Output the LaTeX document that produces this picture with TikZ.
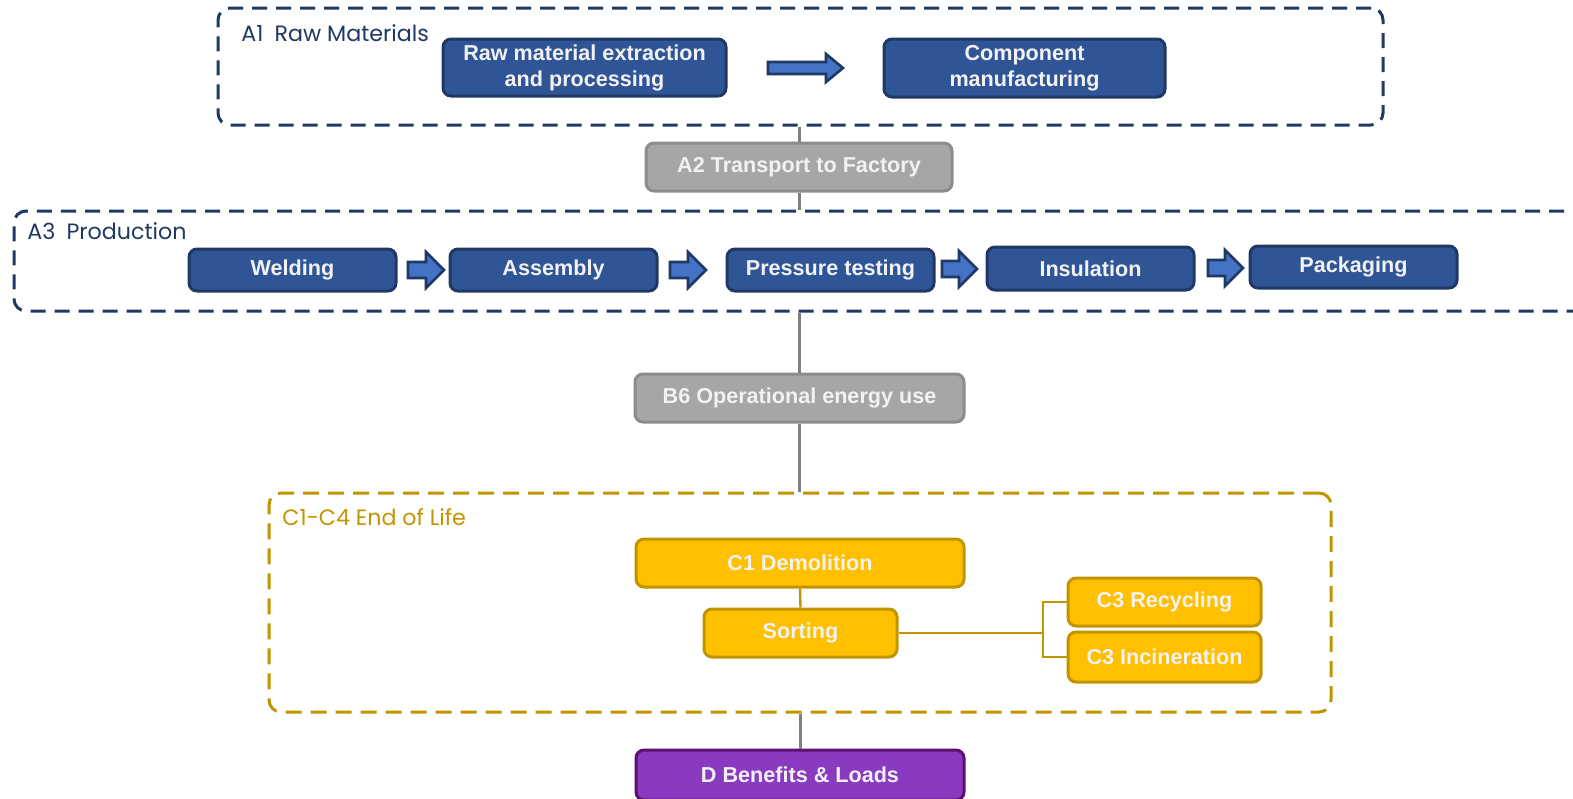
\documentclass[tikz,border=0pt]{standalone}
\usepackage{fontspec}
\setmainfont{Liberation Sans}
\newfontfamily\labfont{Poppins}
\usetikzlibrary{positioning}
\definecolor{navy}{HTML}{1F3864}
\definecolor{boxblue}{HTML}{2F5597}
\definecolor{arrblue}{HTML}{4472C4}
\definecolor{gfill}{HTML}{A6A6A6}
\definecolor{gdraw}{HTML}{8C8C8C}
\definecolor{gline}{HTML}{808080}
\definecolor{yfill}{HTML}{FFC000}
\definecolor{ydraw}{HTML}{C29400}
\definecolor{pfill}{HTML}{8A3AC0}
\definecolor{pdraw}{HTML}{5E0F73}
\definecolor{txt}{HTML}{F2F2F2}
\tikzset{
  base/.style={rounded corners=4pt, line width=1.5pt, inner sep=0pt, align=center,
    font=\fontsize{10.8}{13}\selectfont\bfseries, text=txt},
  bluebox/.style={base, fill=boxblue, draw=navy},
  graybox/.style={base, fill=gfill, draw=gdraw},
  yellowbox/.style={base, fill=yfill, draw=ydraw},
  purplebox/.style={base, fill=pfill, draw=pdraw},
  region/.style={rounded corners=6pt, line width=1.5pt, dash pattern=on 7.5pt off 4.5pt},
  navyregion/.style={region, draw=navy},
  goldregion/.style={region, draw=ydraw, dash pattern=on 8pt off 4.5pt},
  reglabel/.style={font=\labfont\fontsize{11.1}{13}\selectfont, inner sep=0pt, anchor=west},
  conn/.style={draw=gline, line width=1.5pt},
  yconn/.style={draw=ydraw, line width=1.2pt},
  barrow/.style={fill=arrblue, draw=navy, line width=1.3pt, line join=miter}
}
% block arrow: start x, end x, y, shaft half, head half, head length
\newcommand{\blockarr}[6]{%
  \draw[barrow] (#1,#3-#4) -- (#2-#6,#3-#4) -- (#2-#6,#3-#5) -- (#2,#3)
    -- (#2-#6,#3+#5) -- (#2-#6,#3+#4) -- (#1,#3+#4) -- cycle;}
\begin{document}
\begin{tikzpicture}[x=0.5pt,y=-0.5pt]
\clip (0,0) rectangle (1573,798);
\fill[white] (0,0) rectangle (1573,798);
% regions
\node[navyregion, minimum width=582.5pt, minimum height=58.5pt] (A1) at (800.5,66.5) {};
\node[navyregion, minimum width=793pt, minimum height=50pt] (A3) at (807,261) {};
\node[goldregion, minimum width=531pt, minimum height=109.5pt] (C) at (800,602.5) {};
\node[reglabel, text=navy] (A1lab) at (241,33) {A1\hspace{0.5em}Raw Materials};
\node[reglabel, text=navy] (A3lab) at (27,231) {A3\hspace{0.5em}Production};
\node[reglabel, text=ydraw] (Clab) at (282,517) {C1-C4 End of Life};
% A1
\node[bluebox, minimum width=141.5pt, minimum height=28.5pt] (raw) at (584.5,67.5) {Raw material extraction\\and processing};
\node[bluebox, minimum width=140.5pt, minimum height=29pt] (comp) at (1024.5,68) {Component\\manufacturing};
\blockarr{768}{843}{68}{6}{14}{17}
% A2
\node[graybox, minimum width=153pt, minimum height=24pt] (a2) at (799,167) {A2 Transport to Factory};
% A3
\node[bluebox, minimum width=103.5pt, minimum height=21pt] (weld) at (292.5,270) {Welding};
\node[bluebox, minimum width=103.5pt, minimum height=21pt] (asm) at (553.5,270) {Assembly};
\node[bluebox, minimum width=103.5pt, minimum height=21pt] (pt) at (830.5,270) {Pressure testing};
\node[bluebox, minimum width=103.5pt, minimum height=21.5pt] (ins) at (1090.5,268.5) {Insulation};
\node[bluebox, minimum width=103.5pt, minimum height=21pt] (pack) at (1353.5,267) {Packaging};
\blockarr{408}{444}{270}{8}{18}{18}
\blockarr{670}{706}{270}{8}{18}{18}
\blockarr{942}{977}{269}{8}{18}{18}
\blockarr{1208}{1243}{268}{8}{18}{18}
% B6
\node[graybox, minimum width=164.5pt, minimum height=24pt] (b6) at (799.5,398) {B6 Operational energy use};
% C
\node[yellowbox, minimum width=164pt, minimum height=24pt] (c1) at (800,563) {C1 Demolition};
\node[yellowbox, minimum width=96.5pt, minimum height=24pt] (sort) at (800.5,633) {Sorting};
\node[yellowbox, minimum width=96.5pt, minimum height=24pt] (rec) at (1164.5,602) {C3 Recycling};
\node[yellowbox, minimum width=96.5pt, minimum height=25pt] (inc) at (1164.5,657) {C3 Incineration};
% D
\node[purplebox, minimum width=164pt, minimum height=25pt] (d) at (800,775) {D Benefits \& Loads};
% connectors
\coordinate (br) at (1043,633);
\draw[conn] (a2.north |- A1.south) -- (a2.north);
\draw[conn] (a2.south) -- (a2.south |- A3.north);
\draw[conn] (b6.north |- A3.south) -- (b6.north);
\draw[conn] (b6.south) -- (b6.south |- C.north);
\draw[conn] (d.north |- C.south) -- (d.north);
\draw[yconn] (c1.south) -- (sort.north);
\draw[yconn] (sort.east) -- (br);
\draw[yconn] (rec.west) -- (br |- rec.west) -- (br |- inc.west) -- (inc.west);
\end{tikzpicture}
\end{document}
